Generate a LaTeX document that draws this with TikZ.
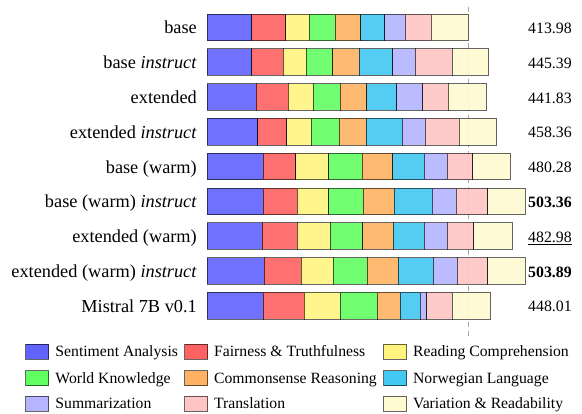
\documentclass[tikz,border=0pt]{standalone}
\usepackage{fontspec}
\setmainfont{Liberation Serif}

\definecolor{cat1}{HTML}{6262FF}% sentiment
\definecolor{cat2}{HTML}{FF6262}% fairness
\definecolor{cat3}{HTML}{FFF47F}% reading
\definecolor{cat4}{HTML}{62FF62}% world knowledge
\definecolor{cat5}{HTML}{FFB262}% commonsense
\definecolor{cat6}{HTML}{42C8F2}% norwegian
\definecolor{cat7}{HTML}{B4B4FF}% summarization
\definecolor{cat8}{HTML}{FFC4C4}% translation
\definecolor{cat9}{HTML}{FFFAD2}% variation

\begin{document}
\begin{tikzpicture}[x=1pt,y=-1pt,
    seg/.style={draw=black,draw opacity=0.6,line width=0.9pt},
    refline/.style={gray!70,line width=1.3pt,dash pattern=on 5pt off 4pt},
    rowlabel/.style={anchor=base east,inner sep=0pt,font=\fontsize{18.3}{21}\selectfont},
    score/.style={anchor=base west,inner sep=0pt,font=\fontsize{15.8}{18}\selectfont},
    keybox/.style={seg,minimum width=23pt,minimum height=14.7pt,inner sep=0pt},
    keytext/.style={anchor=base west,inner sep=0pt,font=\fontsize{15.7}{18}\selectfont}]
    \useasboundingbox (0,0) rectangle (582,414);

    % reference line at the base total
    \coordinate (reftop) at (468.7,7);
    \coordinate (refbot) at (468.7,336);
    \draw[refline] (reftop) -- (refbot);

    % stacked bars, one row per model
    \foreach \yt/\name/\val/\edges [count=\i] in {
        14.0/{base}/{413.98}/{251.7,285.7,309.3,335.3,360.7,384.7,405.3,431.3,468.7},
        48.8/{base \textit{instruct}}/{445.39}/{251.7,283.3,306.3,332.7,359.3,392.7,415.0,452.3,488.7},
        83.6/{extended}/{441.83}/{256.0,288.3,313.3,340.3,366.7,396.7,422.7,448.3,486.7},
        118.4/{extended \textit{instruct}}/{458.36}/{257.7,286.7,311.0,339.3,366.3,402.0,425.3,459.3,496.7},
        153.2/{base (warm)}/{480.28}/{263.3,295.7,328.7,362.3,392.7,424.3,447.0,472.7,510.0},
        188.0/{base (warm) \textit{instruct}}/{\textbf{503.36}}/{263.3,297.0,328.7,363.3,394.3,432.3,456.3,487.5,525.0},
        222.8/{extended (warm)}/{\underline{482.98}}/{262.3,297.0,330.0,362.7,393.3,424.3,447.0,473.7,512.3},
        257.6/{extended (warm) \textit{instruct}}/{\textbf{503.89}}/{264.3,301.0,333.3,367.3,398.3,433.3,457.3,487.7,525.0},
        292.4/{Mistral 7B v0.1}/{448.01}/{263.3,304.3,340.0,377.3,400.0,420.0,426.7,452.3,490.3}} {
      \foreach \x [count=\k, remember=\x as \lx (initially 207.3)] in \edges
        \draw[seg,fill=cat\k,fill opacity=0.9] (\lx,\yt) rectangle (\x,\yt+26.7);
      \node[rowlabel] (lab\i) at (197,\yt+20) {\name};
      \node[score] (val\i) at (528,\yt+19.6) {\val};
    }

    % legend
    \foreach \c/\kx/\ky/\txt in {
        1/37.3/351.7/Sentiment Analysis, 2/196/351.7/Fairness \& Truthfulness, 3/395/351.7/Reading Comprehension,
        4/37.3/378.3/World Knowledge, 5/196/378.3/Commonsense Reasoning, 6/395/378.3/Norwegian Language,
        7/37.3/403.8/Summarization, 8/196/403.8/Translation, 9/395/403.8/Variation \& Readability} {
      \node[keybox,fill=cat\c] (key\c) at (\kx,\ky) {};
      \node[keytext] (keytxt\c) at ([xshift=6pt,yshift=-5.2pt]key\c.east) {\txt};
    }
\end{tikzpicture}
\end{document}
